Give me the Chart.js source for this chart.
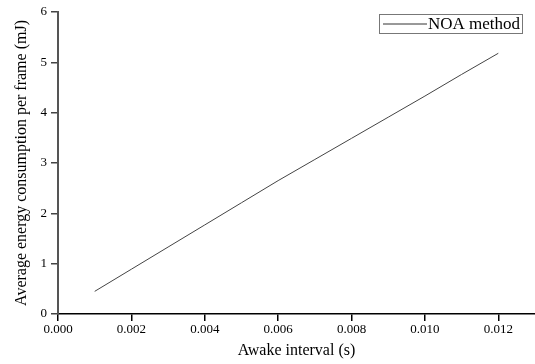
<!DOCTYPE html>
<html>
<head>
<meta charset="utf-8">
<script src="https://cdn.jsdelivr.net/npm/chart.js@4.4.0/dist/chart.umd.min.js"></script>
<style>
  html, body { margin: 0; padding: 0; background: #fff; }
  #wrap { width: 535px; height: 364px; position: relative; }
</style>
</head>
<body>
<div id="wrap"><canvas id="chart"></canvas></div>
<script>
// Awake interval (s)
const awakeInterval = [0.001, 0.002, 0.003, 0.004, 0.005, 0.006, 0.007, 0.008, 0.009, 0.010, 0.011, 0.012];
// Average energy consumption per frame (mJ)
const noaEnergy = [0.45, 0.89, 1.33, 1.77, 2.21, 2.65, 3.07, 3.49, 3.91, 4.33, 4.76, 5.18];
// tick labels on the x axis
const xTicks = [0, 0.002, 0.004, 0.006, 0.008, 0.010, 0.012];

const seriesLabel = 'NOA method';
const xTitle = 'Awake interval (s)';
const yTitle = 'Average energy consumption per frame (mJ)';

const serif = "'Liberation Serif', 'DejaVu Serif', serif";

const legendBox = {
  id: 'legendBox',
  afterDraw(chart) {
    const ctx = chart.ctx;
    const x = 379, y = 14, w = 143, h = 19;
    ctx.save();
    ctx.strokeStyle = '#777';
    ctx.lineWidth = 1;
    ctx.strokeRect(x + 0.5, y + 0.5, w, h);
    ctx.strokeStyle = '#333';
    ctx.beginPath();
    ctx.moveTo(x + 4, y + 10);
    ctx.lineTo(x + 48, y + 10);
    ctx.stroke();
    ctx.fillStyle = '#000';
    ctx.font = '17px ' + serif;
    ctx.textBaseline = 'middle';
    ctx.fillText(seriesLabel, x + 49, y + 10.5);
    ctx.restore();
  }
};

new Chart(document.getElementById('chart'), {
  type: 'line',
  data: {
    datasets: [{
      label: seriesLabel,
      data: awakeInterval.map((x, i) => ({ x, y: noaEnergy[i] })),
      borderColor: '#444',
      borderWidth: 1,
      pointRadius: 0,
      tension: 0,
      fill: false
    }]
  },
  options: {
    responsive: true,
    maintainAspectRatio: false,
    animation: false,
    layout: { padding: { top: 12, right: 0, left: 0, bottom: 0 } },
    plugins: {
      legend: { display: false },
      tooltip: { enabled: false }
    },
    scales: {
      x: {
        type: 'linear',
        min: 0,
        max: 0.013,
        afterFit: s => { s.height = 50; },
        afterBuildTicks: s => { s.ticks = xTicks.map(v => ({ value: v })); },
        ticks: {
          color: '#000',
          font: { family: serif, size: 13 },
          padding: 1,
          maxRotation: 0,
          autoSkip: false,
          callback: v => v.toFixed(3)
        },
        grid: { drawOnChartArea: false, tickLength: 7, color: '#000', lineWidth: 1.5 },
        border: { color: '#000', width: 1.5 },
        title: {
          display: true,
          text: xTitle,
          color: '#000',
          font: { family: serif, size: 16 },
          padding: { top: 3 }
        }
      },
      y: {
        min: 0,
        max: 6,
        afterFit: s => { s.width = 58; },
        ticks: {
          stepSize: 1,
          color: '#000',
          font: { family: serif, size: 13 },
          padding: 4
        },
        grid: { drawOnChartArea: false, tickLength: 7, color: '#444', lineWidth: 1.5 },
        border: { color: '#555', width: 2 },
        title: {
          display: true,
          text: yTitle,
          color: '#000',
          font: { family: serif, size: 16 },
          padding: { top: 12, bottom: 0 }
        }
      }
    }
  },
  plugins: [legendBox]
});
</script>
</body>
</html>
